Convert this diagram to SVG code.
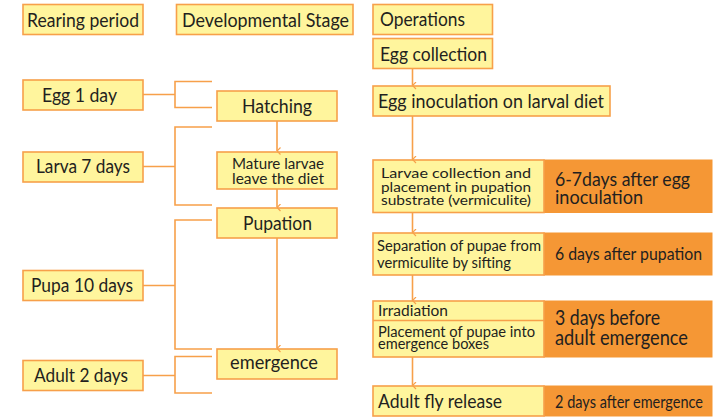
<svg xmlns="http://www.w3.org/2000/svg" width="722" height="417" viewBox="0 0 722 417">
  <style>
    .box { fill: #FFF59D; stroke: #F7A04A; stroke-width: 1.6; }
    .hot { fill: #F59735; stroke: #F59735; stroke-width: 1; }
    .t { font-family: Lato, "Open Sans", "Noto Sans", sans-serif; fill: #231F20; }
    .link { fill: none; stroke: #F7A04A; stroke-width: 1.6; }
  </style>
  <defs>
    <marker id="chev" viewBox="0 0 8 6" refX="4" refY="5.5" markerWidth="8" markerHeight="6" markerUnits="userSpaceOnUse" orient="auto-start-reverse">
      <path d="M0.5,2 L4,5.5 L7.5,2" fill="none" stroke="#F7A04A" stroke-width="1.2"/>
    </marker>
  </defs>
  <rect width="722" height="417" fill="#FFFFFF"/>

  <!-- column headers -->
  <g id="hdr-rearing">
    <rect class="box" x="23" y="4.5" width="120" height="30"/>
    <text class="t" x="27" y="27" font-size="18.5" textLength="112" lengthAdjust="spacingAndGlyphs">Rearing period</text>
  </g>
  <g id="hdr-stage">
    <rect class="box" x="176.5" y="4.5" width="176.5" height="30"/>
    <text class="t" x="182" y="27" font-size="18.5" textLength="167" lengthAdjust="spacingAndGlyphs">Developmental Stage</text>
  </g>
  <g id="hdr-ops">
    <rect class="box" x="373" y="4.5" width="119.5" height="30"/>
    <text class="t" x="380" y="26" font-size="18.5" textLength="85" lengthAdjust="spacingAndGlyphs">Operations</text>
  </g>

  <!-- rearing period -->
  <g id="egg-1day">
    <rect class="box" x="23" y="80" width="120" height="30"/>
    <text class="t" x="42" y="102" font-size="18.5" textLength="75" lengthAdjust="spacingAndGlyphs">Egg 1 day</text>
  </g>
  <g id="larva-7days">
    <rect class="box" x="23" y="152" width="120" height="30"/>
    <text class="t" x="36" y="173" font-size="18.5" textLength="94" lengthAdjust="spacingAndGlyphs">Larva 7 days</text>
  </g>
  <g id="pupa-10days">
    <rect class="box" x="23" y="270.5" width="120" height="30"/>
    <text class="t" x="31" y="292" font-size="18.5" textLength="102" lengthAdjust="spacingAndGlyphs">Pupa 10 days</text>
  </g>
  <g id="adult-2days">
    <rect class="box" x="23" y="360.5" width="120" height="30"/>
    <text class="t" x="34" y="382" font-size="18.5" textLength="94" lengthAdjust="spacingAndGlyphs">Adult 2 days</text>
  </g>

  <!-- developmental stage -->
  <g id="hatching">
    <rect class="box" x="217" y="91" width="120" height="30"/>
    <text class="t" x="242" y="113" font-size="18.5" textLength="70" lengthAdjust="spacingAndGlyphs">Hatching</text>
  </g>
  <g id="mature-larvae">
    <rect class="box" x="217" y="152" width="120" height="37"/>
    <text class="t" x="232" y="169" font-size="14.5" textLength="92" lengthAdjust="spacingAndGlyphs">Mature larvae</text>
    <text class="t" x="232" y="184" font-size="14.5" textLength="92" lengthAdjust="spacingAndGlyphs">leave the diet</text>
  </g>
  <g id="pupation">
    <rect class="box" x="217" y="208" width="120" height="30"/>
    <text class="t" x="243" y="230" font-size="18.5" textLength="69" lengthAdjust="spacingAndGlyphs">Pupation</text>
  </g>
  <g id="emergence">
    <rect class="box" x="217" y="349" width="120" height="30"/>
    <text class="t" x="230" y="369" font-size="18.5" textLength="88" lengthAdjust="spacingAndGlyphs">emergence</text>
  </g>

  <!-- operations -->
  <g id="egg-collection">
    <rect class="box" x="373" y="38.5" width="119.5" height="30"/>
    <text class="t" x="380" y="61" font-size="18.5" textLength="107" lengthAdjust="spacingAndGlyphs">Egg collection</text>
  </g>
  <g id="egg-inoculation">
    <rect class="box" x="373" y="86" width="237" height="30"/>
    <text class="t" x="378" y="108" font-size="18.5" textLength="226" lengthAdjust="spacingAndGlyphs">Egg inoculation on larval diet</text>
  </g>
  <g id="larvae-collection">
    <rect class="hot" x="544" y="160" width="168" height="52.5"/>
    <rect class="box" x="373" y="160" width="171" height="52.5"/>
    <text class="t" x="381" y="178" font-size="14" textLength="150" lengthAdjust="spacingAndGlyphs">Larvae collection  and</text>
    <text class="t" x="381" y="191.5" font-size="14" textLength="150" lengthAdjust="spacingAndGlyphs">placement in pupation</text>
    <text class="t" x="381" y="205" font-size="14" textLength="150" lengthAdjust="spacingAndGlyphs">substrate (vermiculite)</text>
    <text class="t" x="555" y="186" font-size="18.5" textLength="135" lengthAdjust="spacingAndGlyphs">6-7days after egg</text>
    <text class="t" x="555" y="204" font-size="18.5" textLength="88" lengthAdjust="spacingAndGlyphs">inoculation</text>
  </g>
  <g id="separation">
    <rect class="hot" x="544" y="233" width="168" height="42"/>
    <rect class="box" x="373" y="233" width="171" height="42"/>
    <text class="t" x="377" y="251" font-size="15.5" textLength="164" lengthAdjust="spacingAndGlyphs">Separation of pupae from</text>
    <text class="t" x="377" y="268" font-size="15.5" textLength="134" lengthAdjust="spacingAndGlyphs">vermiculite by sifting</text>
    <text class="t" x="555" y="260" font-size="18" textLength="147" lengthAdjust="spacingAndGlyphs">6 days after pupation</text>
  </g>
  <g id="irradiation">
    <rect class="hot" x="544" y="301" width="168" height="56"/>
    <rect class="box" x="373" y="301" width="171" height="56"/>
    <line class="link" x1="373" y1="320.5" x2="544" y2="320.5"/>
    <text class="t" x="378" y="316" font-size="15.5" textLength="70" lengthAdjust="spacingAndGlyphs">Irradiation</text>
    <text class="t" x="378" y="337" font-size="15.5" textLength="157" lengthAdjust="spacingAndGlyphs">Placement of pupae into</text>
    <text class="t" x="378" y="348.5" font-size="15.5" textLength="111" lengthAdjust="spacingAndGlyphs">emergence boxes</text>
    <text class="t" x="555" y="324.5" font-size="20.5" textLength="105" lengthAdjust="spacingAndGlyphs">3 days before</text>
    <text class="t" x="555" y="344.5" font-size="20.5" textLength="133" lengthAdjust="spacingAndGlyphs">adult emergence</text>
  </g>
  <g id="fly-release">
    <rect class="hot" x="544" y="386" width="168" height="30"/>
    <rect class="box" x="373" y="386" width="171" height="30"/>
    <text class="t" x="378" y="407.5" font-size="19.5" textLength="124" lengthAdjust="spacingAndGlyphs">Adult fly release</text>
    <text class="t" x="555" y="408" font-size="18" textLength="148" lengthAdjust="spacingAndGlyphs">2 days after emergence</text>
  </g>

  <!-- brackets and arrows -->
  <g id="connectors">
    <path class="link" d="M143,94.5 H175 M212,81.5 H175 V107.5 H212"/>
    <path class="link" d="M143,166.5 H175 M212,127 H175 V205 H212"/>
    <path class="link" d="M143,285.5 H175 M212,220 H175 V349 H212"/>
    <path class="link" d="M143,375.5 H175 M212,356.5 H175 V393 H212"/>
    <line class="link" x1="277" y1="121" x2="277" y2="151" marker-end="url(#chev)"/>
    <line class="link" x1="277" y1="189" x2="277" y2="207.5" marker-end="url(#chev)"/>
    <line class="link" x1="277" y1="238" x2="277" y2="348.5" marker-end="url(#chev)"/>
    <line class="link" x1="412.5" y1="68.5" x2="412.5" y2="85.5" marker-end="url(#chev)"/>
    <line class="link" x1="412.5" y1="116" x2="412.5" y2="159.5" marker-end="url(#chev)"/>
    <line class="link" x1="412.5" y1="212.5" x2="412.5" y2="232.5" marker-end="url(#chev)"/>
    <line class="link" x1="412.5" y1="275" x2="412.5" y2="300.5" marker-end="url(#chev)"/>
    <line class="link" x1="412.5" y1="357" x2="412.5" y2="385.5" marker-end="url(#chev)"/>
  </g>
</svg>
